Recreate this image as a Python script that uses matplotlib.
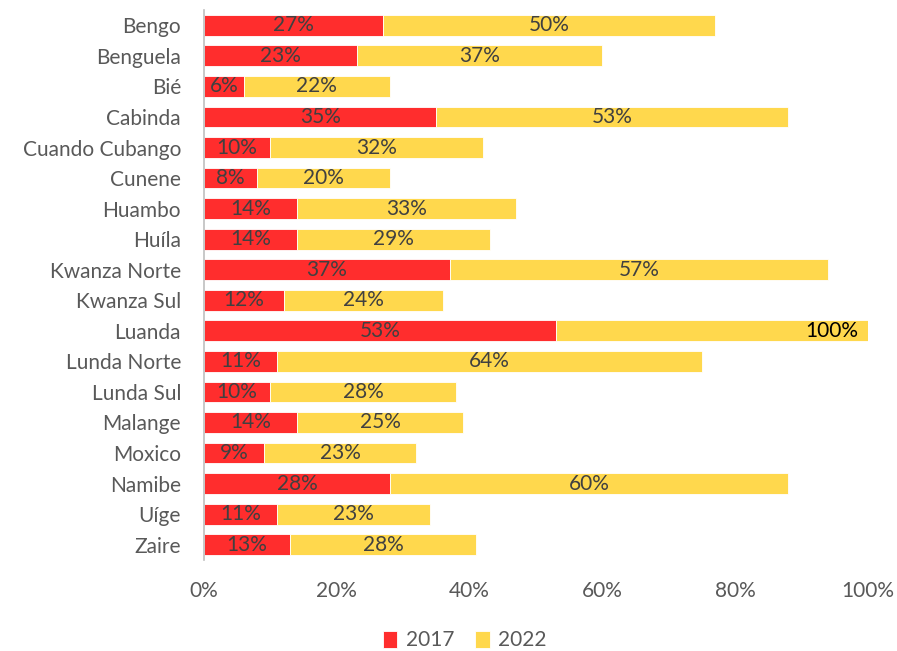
import matplotlib.pyplot as plt
import numpy as np

plt.rcParams['font.family'] = ['Lato', 'DejaVu Sans']

provinces = ['Bengo', 'Benguela', 'Bié', 'Cabinda', 'Cuando Cubango', 'Cunene',
             'Huambo', 'Huíla', 'Kwanza Norte', 'Kwanza Sul', 'Luanda',
             'Lunda Norte', 'Lunda Sul', 'Malange', 'Moxico', 'Namibe', 'Uíge', 'Zaire']
v2017 = [27, 23, 6, 35, 10, 8, 14, 14, 37, 12, 53, 11, 10, 14, 9, 28, 11, 13]
v2022 = [50, 37, 22, 53, 32, 20, 33, 29, 57, 24, 100, 64, 28, 25, 23, 60, 23, 28]

red = '#FF2D2D'
yellow = '#FFD84D'
txt = '#404040'
fs = 15

fig = plt.figure(figsize=(8.97, 6.51), dpi=100)
ax = fig.add_axes([0.2274, 0.1398, 0.7403, 0.8448])

y = np.arange(len(provinces))
a = np.array(v2017, dtype=float)
b = np.array(v2022, dtype=float)

ax.barh(y, a, height=0.68, color=red, edgecolor='white', linewidth=0.6, label='2017')
ax.barh(y, b, left=a, height=0.68, color=yellow, edgecolor='white', linewidth=0.6, label='2022')

ax.set_xlim(0, 100)
ax.set_ylim(len(provinces) - 0.5, -0.5)

for i in range(len(provinces)):
    ax.text(a[i] / 2, y[i], f'{v2017[i]}%', ha='center', va='center',
            fontsize=fs, color=txt)
    end = a[i] + b[i]
    if end > 100:
        # bar runs past the axis: label sits at the clipped end
        ax.text(98.5, y[i], f'{v2022[i]}%', ha='right', va='center',
                fontsize=fs, color='black')
    else:
        ax.text(a[i] + b[i] / 2, y[i], f'{v2022[i]}%', ha='center', va='center',
                fontsize=fs, color=txt)

ax.set_yticks(y)
ax.set_yticklabels(provinces, fontsize=fs, color='#595959')
ax.set_xticks(np.arange(0, 101, 20))
ax.set_xticklabels([f'{t}%' for t in range(0, 101, 20)], fontsize=fs, color='#595959')
ax.tick_params(axis='both', length=0)
ax.tick_params(axis='y', pad=16.5)
ax.tick_params(axis='x', pad=15)

for s in ['top', 'right', 'bottom']:
    ax.spines[s].set_visible(False)
ax.spines['left'].set_color('#BFBFBF')
ax.spines['left'].set_linewidth(1.2)

leg = fig.legend(loc='lower center', bbox_to_anchor=(0.518, -0.028), ncol=2, frameon=False,
                 fontsize=fs, handlelength=0.7, handleheight=0.9, handletextpad=0.4,
                 columnspacing=1.0)
for t in leg.get_texts():
    t.set_color('#595959')

fig.savefig('out.png', dpi=100)
